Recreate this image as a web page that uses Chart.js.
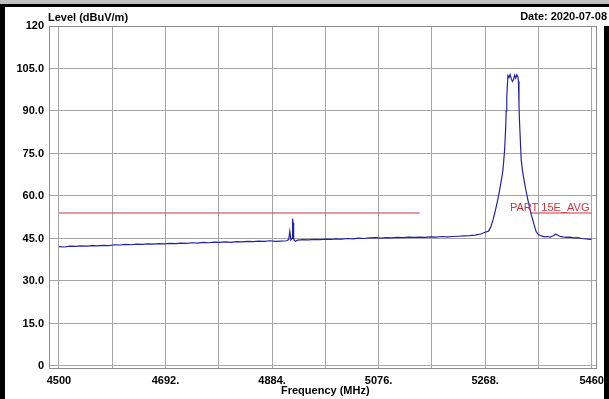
<!DOCTYPE html>
<html>
<head>
<meta charset="utf-8">
<script src="https://cdn.jsdelivr.net/npm/chart.js@4.4.1/dist/chart.umd.min.js"></script>
<style>
html,body{margin:0;padding:0;background:#fff;}
#wrap{position:relative;width:609px;height:399px;}
canvas{display:block;}
</style>
</head>
<body>
<div id="wrap"><canvas id="c" width="609" height="399"></canvas></div>
<script>
// ---- data ----
const traceFreq = [4500,4510,4520,4530,4540,4550,4560,4570,4580,4590,4600,4610,4620,4630,4640,4650,4660,4670,4680,4690,4700,4710,4720,4730,4740,4750,4760,4770,4780,4790,4800,4810,4820,4830,4840,4850,4860,4870,4880,4890,4900,4910,4914,4916,4918,4920,4921,4922,4923,4924,4926,4930,4940,4950,4960,4970,4980,4990,5000,5010,5020,5030,5040,5050,5060,5070,5080,5090,5100,5110,5120,5130,5140,5150,5160,5170,5180,5190,5200,5210,5220,5230,5240,5250,5260,5268,5274,5278,5282,5286,5290,5294,5298,5300,5303,5305,5306,5307,5309,5311,5313,5315,5317,5319,5321,5323,5325,5327,5328,5329,5330,5332,5333,5336,5339,5342,5345,5348,5351,5354,5357,5360,5364,5369,5375,5380,5385,5390,5395,5398,5402,5408,5415,5420,5428,5435,5442,5450,5455,5460];
const traceLevel = [42.1,42.0,42.3,42.2,42.4,42.3,42.5,42.4,42.6,42.5,42.8,42.7,42.9,42.8,43.0,42.9,43.1,43.0,43.2,43.1,43.3,43.2,43.4,43.3,43.5,43.4,43.6,43.5,43.7,43.6,43.8,43.6,43.9,43.8,44.0,43.9,44.1,44.0,44.2,44.0,44.1,44.2,44.6,47.5,44.5,45.0,52.0,50.5,45.2,44.3,44.0,44.4,44.6,44.5,44.7,44.6,44.8,44.7,44.9,44.8,45.0,44.9,45.1,45.0,45.2,45.3,45.1,45.3,45.2,45.4,45.3,45.5,45.4,45.5,45.4,45.6,45.5,45.7,45.6,45.7,45.8,45.9,46.0,46.2,46.6,47.2,47.6,49.0,51.5,54.5,58.0,62.0,66.5,69.0,76.0,84.0,90.0,95.0,102.5,101.8,102.9,101.5,100.4,101.0,102.6,101.6,102.8,102.0,100.5,92.0,86.0,77.0,72.7,68.0,64.6,61.5,58.6,56.0,53.5,51.5,49.3,47.4,46.4,45.9,45.6,45.7,45.5,45.9,46.5,46.3,45.8,45.6,45.4,45.5,45.2,45.3,45.0,44.9,44.7,44.8];
const limitStart = [4500, 5350];
const limitEnd = [5150, 5460];
const limitLevel = 54;
const xTickValues = [4500,4596,4692,4788,4884,4980,5076,5172,5268,5364,5460];
const xTickLabels = ['4500','','4692.','','4884.','','5076.','','5268.','','5460'];
const yTickValues = [0,15,30,45,60,75,90,105,120];
const yTickLabels = ['0','15.0','30.0','45.0','60.0','75.0','90.0','105.0','120'];

const traceData = traceFreq.map((f,i)=>({x:f,y:traceLevel[i]}));
const limitData = [];
limitStart.forEach((s,i)=>{
  if(i>0) limitData.push({x:(limitEnd[i-1]+s)/2,y:null});
  limitData.push({x:s,y:limitLevel});
  limitData.push({x:limitEnd[i],y:limitLevel});
});

const FONT = 'Liberation Sans, Arial, sans-serif';
const GRID = '#a6a6a6';

const frame = {
  id:'frame',
  beforeDraw(chart){
    const c = chart.ctx;
    c.save();
    c.fillStyle='#fff';
    c.fillRect(0,0,chart.width,chart.height);
    c.restore();
  },
  beforeDatasetsDraw(chart){
    const c = chart.ctx, a = chart.chartArea;
    c.save();
    c.strokeStyle = '#8c8c8c';
    c.lineWidth = 1;
    c.strokeRect(Math.round(a.left)+0.5, Math.round(a.top)+0.5, Math.round(a.right-a.left)-1, Math.round(a.bottom-a.top)-1);
    c.restore();
  },
  afterDraw(chart){
    const c = chart.ctx, a = chart.chartArea;
    const xs = chart.scales.x, ys = chart.scales.y;
    c.save();
    c.fillStyle='#000';
    c.font = 'bold 11px ' + FONT;
    c.textBaseline='alphabetic';
    c.textAlign='left';
    c.fillText('Level (dBuV/m)', 48, 21);
    c.textAlign='right';
    c.fillText('Date: 2020-07-08', 607, 20);
    c.textAlign='center';
    c.fillText('Frequency (MHz)', (xs.getPixelForValue(4980)), 394);
    // limit label
    c.fillStyle='#d4333d';
    c.font = '11px ' + FONT;
    c.textAlign='right';
    c.fillText('PART 15E_AVG', xs.getPixelForValue(5456), ys.getPixelForValue(limitLevel)-2);
    // outer frame
    c.fillStyle='#c0c0c0';
    c.fillRect(0,0,609,4);
    c.fillStyle='#000';
    c.fillRect(0,4,609,3);
    c.fillRect(0,4,5,395);
    c.fillRect(604,26,5,373);
    c.restore();
  }
};

new Chart(document.getElementById('c'), {
  type:'line',
  data:{datasets:[
    {data:traceData, borderColor:'#2222a8', borderWidth:1.2, pointRadius:0, tension:0, order:0},
    {data:limitData, borderColor:'#cc3440', borderWidth:1.2, pointRadius:0, tension:0, spanGaps:false, order:1}
  ]},
  options:{
    responsive:false, animation:false, devicePixelRatio:1,
    layout:{padding:{left:0,right:8,top:26,bottom:0}},
    plugins:{legend:{display:false}, tooltip:{enabled:false}},
    scales:{
      x:{type:'linear', min:4482.1, max:5468.9,
        afterBuildTicks(s){ s.ticks = xTickValues.map(v=>({value:v})); },
        afterFit(s){ s.height = 30; },
        grid:{color:GRID, lineWidth:1, drawTicks:false},
        border:{display:false},
        ticks:{autoSkip:false, maxRotation:0, padding:5, color:'#000',
          font:{family:FONT, size:11, weight:'bold'},
          callback:(v,i)=>xTickLabels[i]}
      },
      y:{type:'linear', min:-1.06, max:120,
        afterBuildTicks(s){ s.ticks = yTickValues.map(v=>({value:v})); },
        afterFit(s){ s.width = 49; },
        grid:{color:GRID, lineWidth:1, drawTicks:false},
        border:{display:false},
        ticks:{autoSkip:false, padding:5, color:'#000',
          font:{family:FONT, size:11, weight:'bold'},
          callback:(v,i)=>yTickLabels[i]}
      }
    }
  },
  plugins:[frame]
});
</script>
</body>
</html>
